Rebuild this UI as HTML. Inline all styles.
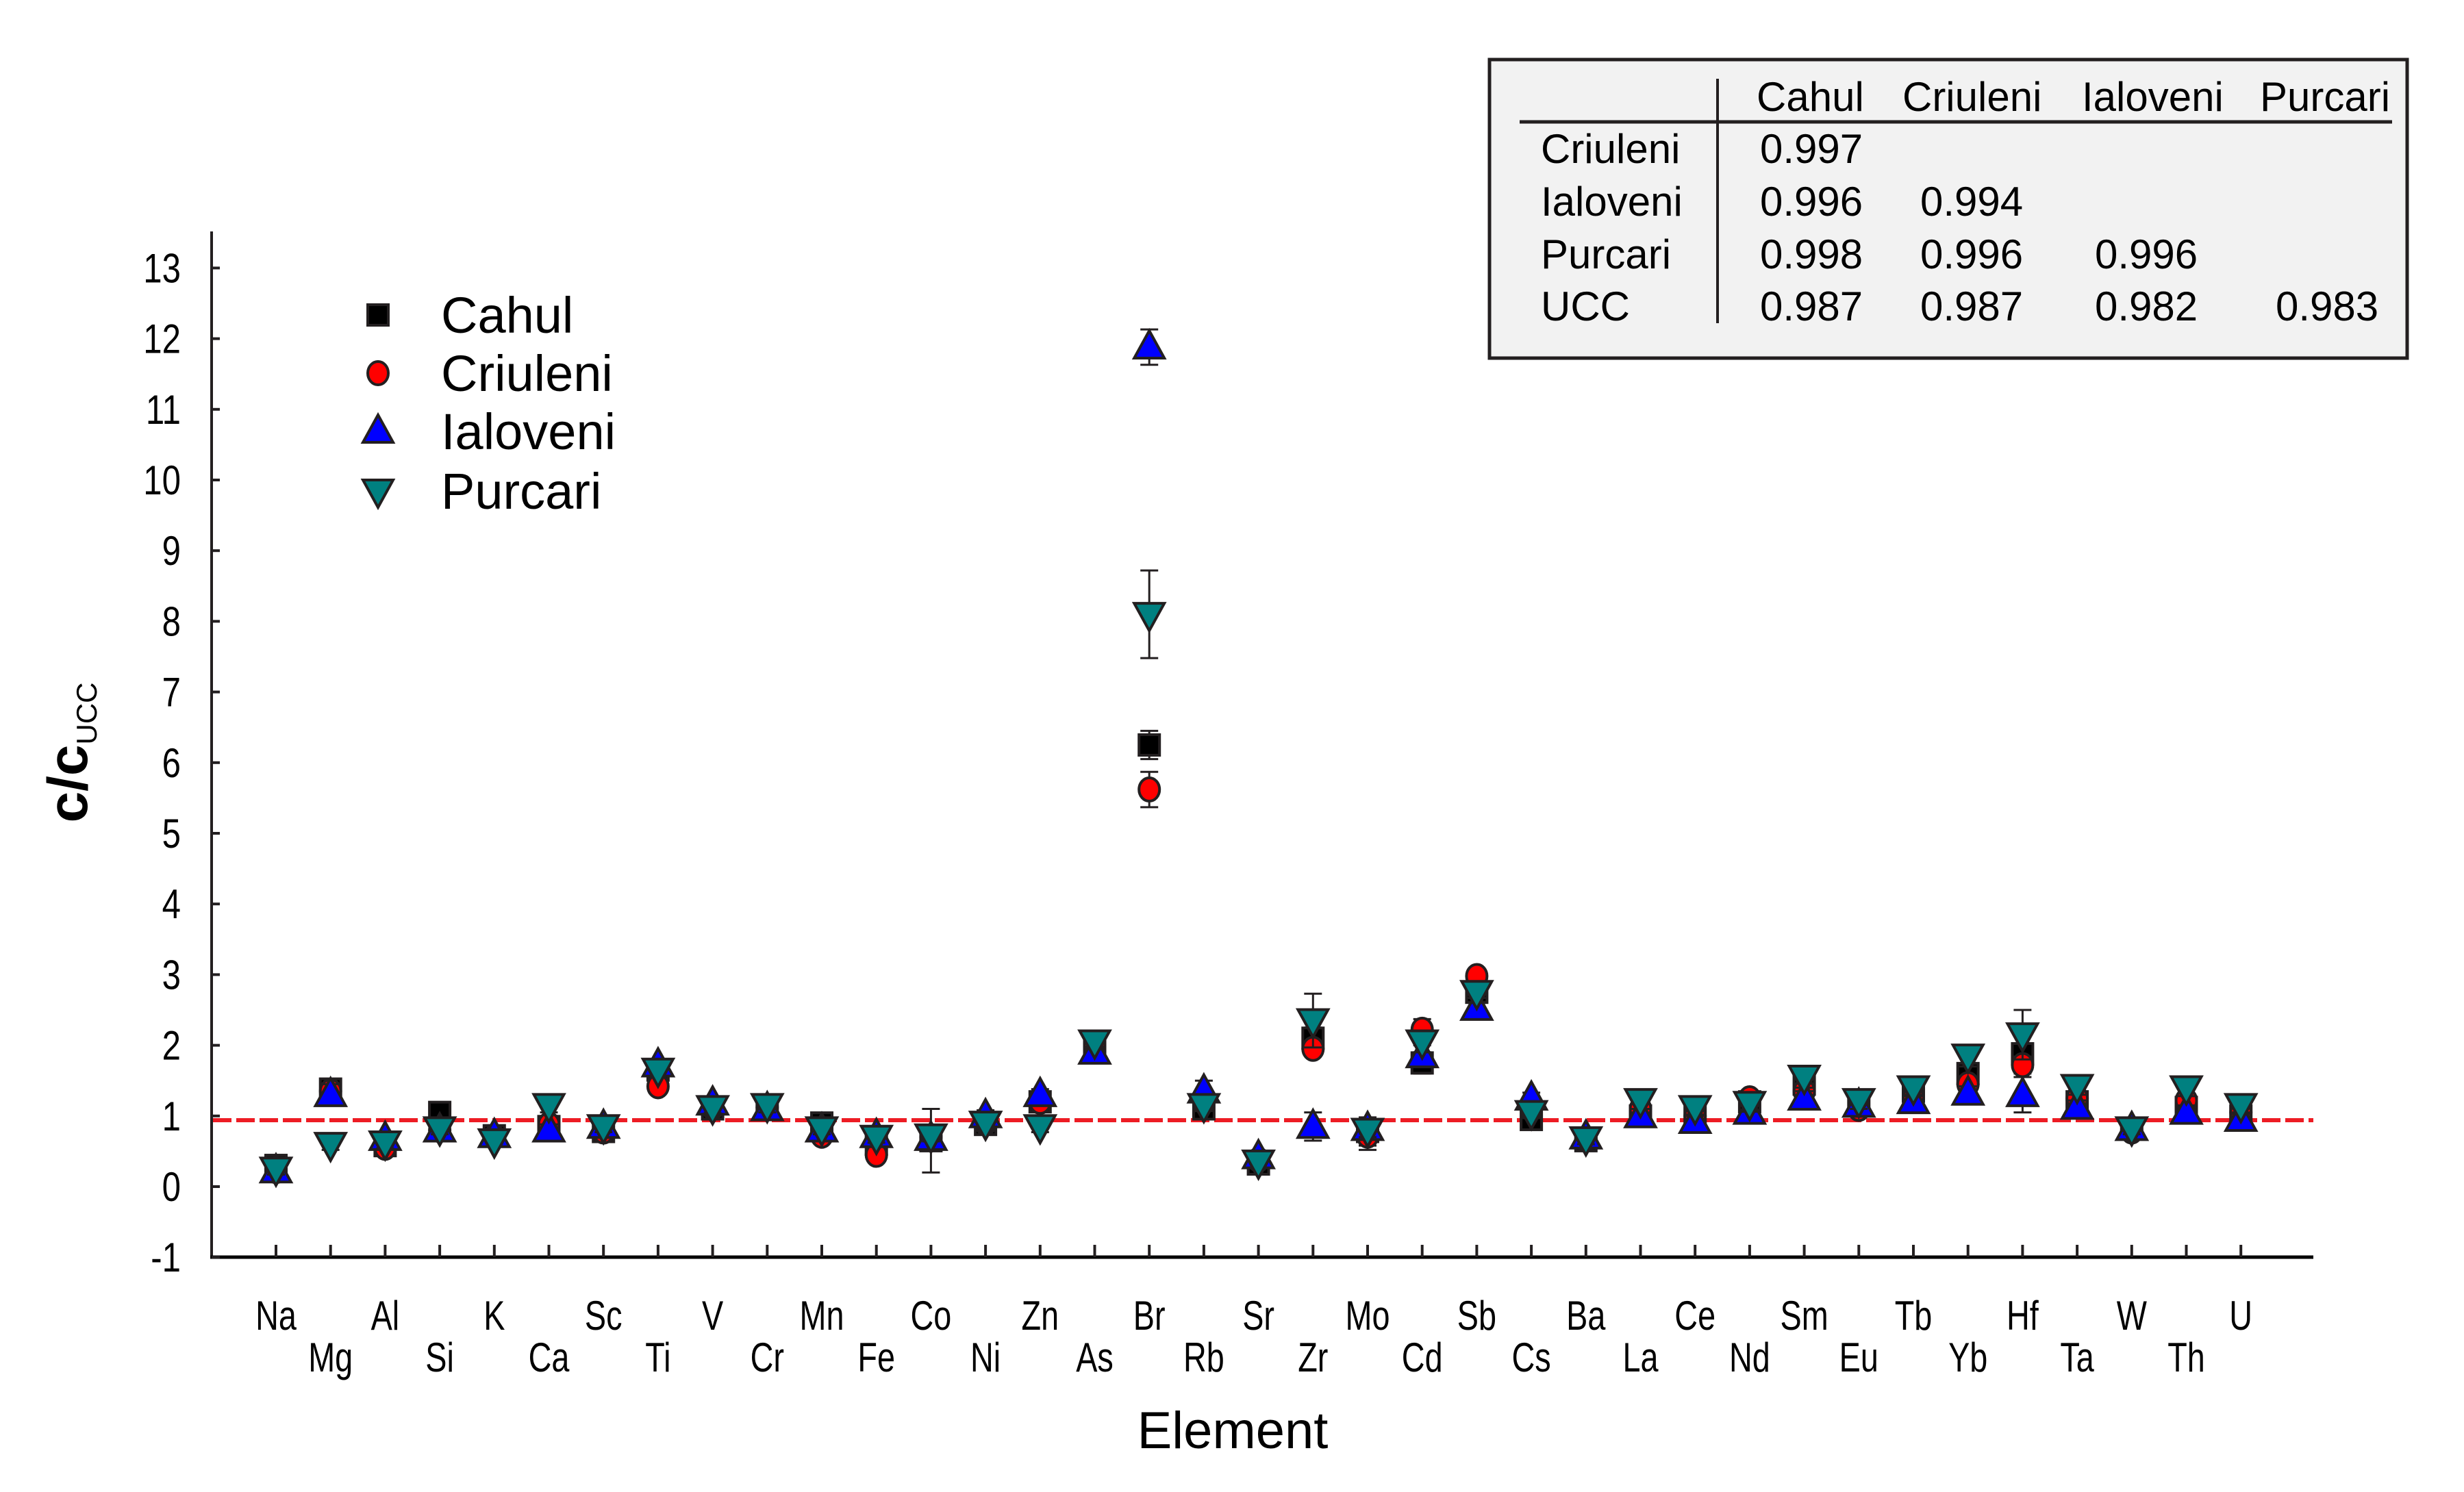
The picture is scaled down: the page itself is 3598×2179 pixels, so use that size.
<!DOCTYPE html>
<html><head><meta charset="utf-8"><style>
html,body{margin:0;padding:0;background:#fff}
svg{display:block;font-family:"Liberation Sans",Arial,sans-serif}
</style></head><body>
<svg id="chart" width="3598" height="2179" viewBox="0 0 3598 2179" xmlns="http://www.w3.org/2000/svg">
<g id="axes"></g>
<g id="marks"></g>
<g id="legend"></g>
<g id="table">
  <rect x="2175" y="87" width="1340" height="436" fill="#f2f2f2" stroke="#231f20" stroke-width="5"/>
  <line x1="2219" y1="178" x2="3493" y2="178" stroke="#231f20" stroke-width="5"/>
  <line x1="2508" y1="115" x2="2508" y2="472" stroke="#231f20" stroke-width="4"/>
  <g font-size="60" fill="#000">
    <text x="2565" y="162">Cahul</text>
    <text x="2778" y="162">Criuleni</text>
    <text x="3040" y="162">Ialoveni</text>
    <text x="3300" y="162">Purcari</text>
    <text x="2250" y="238">Criuleni</text>
    <text x="2250" y="315">Ialoveni</text>
    <text x="2250" y="392">Purcari</text>
    <text x="2250" y="468">UCC</text>
    <text x="2570" y="238">0.997</text>
    <text x="2570" y="315">0.996</text>
    <text x="2804" y="315">0.994</text>
    <text x="2570" y="392">0.998</text>
    <text x="2804" y="392">0.996</text>
    <text x="3059" y="392">0.996</text>
    <text x="2570" y="468">0.987</text>
    <text x="2804" y="468">0.987</text>
    <text x="3059" y="468">0.982</text>
    <text x="3323" y="468">0.983</text>
  </g>
</g>
<text x="1800" y="2115" font-size="76" text-anchor="middle">Element</text>
<text transform="translate(127,1099) rotate(-90)" text-anchor="middle"><tspan font-size="82" font-weight="bold">c/c</tspan><tspan font-size="42" dy="14">UCC</tspan></text>
</svg>
<script>
const elements = ["Na","Mg","Al","Si","K","Ca","Sc","Ti","V","Cr","Mn","Fe","Co","Ni","Zn","As","Br","Rb","Sr","Zr","Mo","Cd","Sb","Cs","Ba","La","Ce","Nd","Sm","Eu","Tb","Yb","Hf","Ta","W","Th","U"];
const cahul    = [0.30,1.38,0.58,1.05,0.72,0.85,0.78,1.65,1.10,1.12,0.90,0.60,0.65,0.88,1.20,1.95,6.25,1.10,0.32,2.10,0.78,1.75,2.75,0.95,0.65,1.00,1.00,1.20,1.45,1.20,1.35,1.60,1.88,1.20,0.82,1.12,1.00];
const criuleni = [0.22,1.35,0.55,0.80,0.70,0.88,0.78,1.42,1.12,1.12,0.72,0.45,0.70,0.90,1.20,2.00,5.62,1.20,0.38,1.95,0.72,2.22,2.98,1.10,0.68,1.10,1.00,1.25,1.35,1.10,1.25,1.45,1.72,1.25,0.78,1.22,1.05];
const ialoveni = [0.22,1.30,0.68,0.80,0.72,0.80,0.85,1.72,1.18,1.10,0.80,0.72,0.68,1.00,1.30,1.90,11.88,1.35,0.42,0.85,0.82,1.85,2.52,1.25,0.70,1.00,0.92,1.05,1.25,1.15,1.20,1.32,1.30,1.12,0.82,1.05,0.95];
const purcari  = [0.25,0.60,0.62,0.82,0.65,1.15,0.85,1.65,1.12,1.15,0.82,0.70,0.72,0.90,0.85,2.05,8.10,1.15,0.35,2.35,0.80,2.05,2.75,1.05,0.68,1.22,1.12,1.18,1.55,1.22,1.40,1.85,2.15,1.42,0.82,1.40,1.15];
const cahulErr    = [0.08,0.08,0.08,0.08,0.08,0.15,0.08,0.08,0.08,0.08,0.08,0.08,0.45,0.08,0.08,0.08,0.20,0.08,0.08,0.15,0.20,0.15,0.15,0.08,0.08,0.10,0.10,0.10,0.10,0.10,0.10,0.12,0.15,0.10,0.08,0.10,0.10];
const criuleniErr = [0.08,0.08,0.08,0.08,0.08,0.08,0.08,0.08,0.08,0.08,0.08,0.08,0.08,0.08,0.08,0.08,0.25,0.08,0.08,0.10,0.20,0.15,0.10,0.08,0.08,0.10,0.10,0.10,0.10,0.10,0.10,0.10,0.12,0.10,0.08,0.10,0.10];
const ialoveniErr = [0.08,0.15,0.08,0.08,0.08,0.08,0.08,0.08,0.08,0.08,0.08,0.08,0.08,0.08,0.08,0.08,0.25,0.15,0.08,0.20,0.10,0.15,0.15,0.08,0.08,0.10,0.10,0.10,0.10,0.10,0.10,0.10,0.25,0.10,0.08,0.10,0.10];
const purcariErr  = [0.08,0.08,0.08,0.08,0.08,0.10,0.08,0.08,0.08,0.10,0.08,0.08,0.08,0.08,0.08,0.08,0.62,0.08,0.08,0.38,0.10,0.15,0.15,0.08,0.08,0.12,0.12,0.12,0.15,0.12,0.12,0.15,0.35,0.12,0.08,0.12,0.12];
const yTicks = [-1,0,1,2,3,4,5,6,7,8,9,10,11,12,13];
const refLine = 0.94;

const NS = "http://www.w3.org/2000/svg";
const X0 = 403, DX = 79.7, Y0 = 1733, DY = 103.2;
const AXL = 309, AXR = 3378, AXB = 1836, AXT = 338;
function xs(i){ return X0 + DX*i; }
function ys(v){ return Y0 - DY*v; }
function mk(tag, attrs, parent){ const e=document.createElementNS(NS,tag); for(const k in attrs) e.setAttribute(k,attrs[k]); parent.appendChild(e); return e; }
const STK="#231f20";
const axes=document.getElementById('axes');
let l=mk('line',{x1:AXL,y1:AXT,x2:AXL,y2:AXB+2,stroke:STK,'stroke-width':4},axes);


l=mk('line',{x1:AXL-2,y1:AXB,x2:AXR,y2:AXB,stroke:'#000','stroke-width':5},axes);


yTicks.forEach(v=>{
  const y=ys(v);
  const t=mk('line',{x1:AXL,y1:y,x2:AXL+12,y2:y,stroke:STK,'stroke-width':4},axes);
  
  
  const tx=mk('text',{transform:`translate(264,${y+21}) scale(0.82,1)`,'font-size':60,'text-anchor':'end'},axes);
  tx.textContent=String(v).replace('-','\u2212'.length?'-':'-');
  
  
});
elements.forEach((e,i)=>{
  const x=xs(i);
  const t=mk('line',{x1:x,y1:AXB,x2:x,y2:AXB-18,stroke:STK,'stroke-width':4},axes);
  
  
  const yb = (i%2===0)?1942:2003;
  const tx=mk('text',{transform:`translate(${x},${yb}) scale(0.78,1)`,'font-size':60,'text-anchor':'middle'},axes);
  tx.textContent=e;
  
  
});
const rl=mk('line',{x1:AXL+2,y1:ys(refLine),x2:AXR,y2:ys(refLine),stroke:'#ed1c24','stroke-width':6,'stroke-dasharray':'27 7'},axes);



function marker(shape,x,y,fill,parent){
  let m;
  if(shape==='square') m=mk('rect',{x:x-15,y:y-15,width:30,height:30,fill:fill,stroke:STK,'stroke-width':4},parent);
  else if(shape==='circle') m=mk('ellipse',{cx:x,cy:y,rx:15,ry:17,fill:fill,stroke:STK,'stroke-width':4},parent);
  else if(shape==='up') m=mk('polygon',{points:`${x},${y-24} ${x+22},${y+16} ${x-22},${y+16}`,fill:fill,stroke:STK,'stroke-width':4,'stroke-linejoin':'miter'},parent);
  else m=mk('polygon',{points:`${x},${y+24} ${x+22},${y-16} ${x-22},${y-16}`,fill:fill,stroke:STK,'stroke-width':4},parent);
  return m;
}
const marks=document.getElementById('marks');
const series=[
  {name:'cahul',vals:cahul,err:cahulErr,shape:'square',fill:'#000000'},
  {name:'criuleni',vals:criuleni,err:criuleniErr,shape:'circle',fill:'#ff0000'},
  {name:'ialoveni',vals:ialoveni,err:ialoveniErr,shape:'up',fill:'#0000ff'},
  {name:'purcari',vals:purcari,err:purcariErr,shape:'down',fill:'#008080'}
];
series.forEach(s=>{
  const g=mk('g',{},marks);
  
  
  s.vals.forEach((v,i)=>{
    const x=xs(i), e=s.err[i];
    const eb=mk('path',{d:`M${x},${ys(v+e)}V${ys(v-e)}M${x-13},${ys(v+e)}H${x+13}M${x-13},${ys(v-e)}H${x+13}`,stroke:STK,'stroke-width':3,fill:'none'},g);
    
    
    const m=marker(s.shape,x,ys(v),s.fill,g);
    
    
  });
});
const legend=document.getElementById('legend');
const legY=[460,545,630,717], legNames=['Cahul','Criuleni','Ialoveni','Purcari'];
series.forEach((s,k)=>{
  const m=marker(s.shape,552,legY[k],s.fill,legend);
  
  
  const t=mk('text',{x:644,y:legY[k]+26,'font-size':74},legend);
  t.textContent=legNames[k];
  
  
});
</script>
</body></html>
